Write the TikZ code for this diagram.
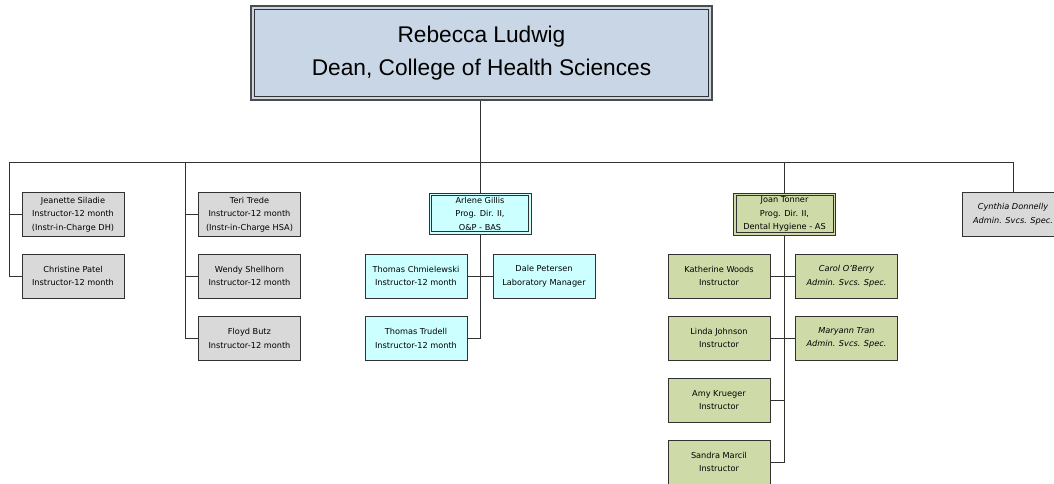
\documentclass[tikz,border=0pt]{standalone}
\usepackage{fontspec}
\setmainfont{DejaVu Sans}
\newfontfamily\topfont{Liberation Sans}
\definecolor{grayfill}{RGB}{217,217,217}
\definecolor{cyanfill}{RGB}{204,255,255}
\definecolor{greenfill}{RGB}{206,219,168}
\definecolor{topfill}{RGB}{200,214,229}
\definecolor{linec}{RGB}{50,50,50}
\begin{document}
\begin{tikzpicture}[x=1pt,y=-1pt,
  person/.style={draw=linec, line width=1pt, minimum width=102pt, minimum height=44pt,
     inner sep=0pt, align=center, font=\fontsize{8.2}{13.5}\selectfont},
  grayp/.style={person, fill=grayfill},
  cyanp/.style={person, fill=cyanfill},
  greenp/.style={person, fill=greenfill},
  conn/.style={draw=linec, line width=1pt},
  inner/.style={draw=linec, line width=0.9pt}]
\useasboundingbox (0,0) rectangle (1054,483);
\clip (0,0) rectangle (1054,483);
% top box
\node[draw=black!70, line width=1.6pt, fill=topfill, minimum width=461pt, minimum height=94pt,
  inner sep=0pt, align=center, font=\topfont\fontsize{22.7}{33}\selectfont] (dean) at (481.5,53)
  {Rebecca Ludwig\\Dean, College of Health Sciences};
\draw[inner] ([shift={(4.5,4.5)}]dean.north west) rectangle ([shift={(-4.5,-4.5)}]dean.south east);
% column 1
\node[grayp] (jeanette) at (73,214.5) {Jeanette Siladie\\Instructor-12 month\\(Instr-in-Charge DH)};
\node[grayp] (christine) at (73,276) {Christine Patel\\Instructor-12 month};
% column 2
\node[grayp] (teri) at (249.5,214.5) {Teri Trede\\Instructor-12 month\\(Instr-in-Charge HSA)};
\node[grayp] (wendy) at (249.5,276) {Wendy Shellhorn\\Instructor-12 month};
\node[grayp] (floyd) at (249.5,338.5) {Floyd Butz\\Instructor-12 month};
% Arlene
\node[cyanp, minimum height=41pt] (arlene) at (480,213.5) {Arlene Gillis\\Prog. Dir. II,\\O\&P - BAS};
\draw[inner] ([shift={(3,3)}]arlene.north west) rectangle ([shift={(-3,-3)}]arlene.south east);
\node[cyanp] (chm) at (416,276) {Thomas Chmielewski\\Instructor-12 month};
\node[cyanp] (dale) at (544,276) {Dale Petersen\\Laboratory Manager};
\node[cyanp] (trudell) at (416,338.5) {Thomas Trudell\\Instructor-12 month};
% Joan
\node[greenp, minimum height=42pt] (joan) at (784.5,214) {Joan Tonner\\Prog. Dir. II,\\Dental Hygiene - AS};
\draw[inner] ([shift={(3,3)}]joan.north west) rectangle ([shift={(-3,-3)}]joan.south east);
\node[greenp] (kath) at (719,276) {Katherine Woods\\Instructor};
\node[greenp, font=\fontsize{8.2}{13.5}\selectfont\itshape] (carol) at (846.5,276) {Carol O'Berry\\Admin. Svcs. Spec.};
\node[greenp] (linda) at (719,338) {Linda Johnson\\Instructor};
\node[greenp, font=\fontsize{8.2}{13.5}\selectfont\itshape] (maryann) at (846.5,338) {Maryann Tran\\Admin. Svcs. Spec.};
\node[greenp] (amy) at (719,400) {Amy Krueger\\Instructor};
\node[greenp] (sandra) at (719,462) {Sandra Marcil\\Instructor};
% Cynthia
\node[grayp, font=\fontsize{8.2}{13.5}\selectfont\itshape] (cynthia) at (1013,214) {Cynthia Donnelly\\Admin. Svcs. Spec.};
% bus
\coordinate (b1) at (9,162);
\coordinate (b2) at (185,162);
\coordinate (b4) at (784.5,162);
\coordinate (b5) at (1013,162);
\draw[conn] (b1) -- (b5);
\draw[conn] (arlene.north) -- (arlene.north |- dean.south);
\draw[conn] (b1) |- (jeanette.west);
\draw[conn] (b1) |- (christine.west);
\draw[conn] (b2) |- (teri.west);
\draw[conn] (b2) |- (wendy.west);
\draw[conn] (b2) |- (floyd.west);
\draw[conn] (b4) -- (joan.north);
\draw[conn] (b5) -- (cynthia.north);
\draw[conn] (arlene.south) |- (trudell.east);
\draw[conn] (chm.east) -- (dale.west);
\draw[conn] (joan.south) |- (sandra.east);
\draw[conn] (kath.east) -- (carol.west);
\draw[conn] (linda.east) -- (maryann.west);
\draw[conn] (amy.east) -- (amy.east -| joan.south);
\end{tikzpicture}
\end{document}
